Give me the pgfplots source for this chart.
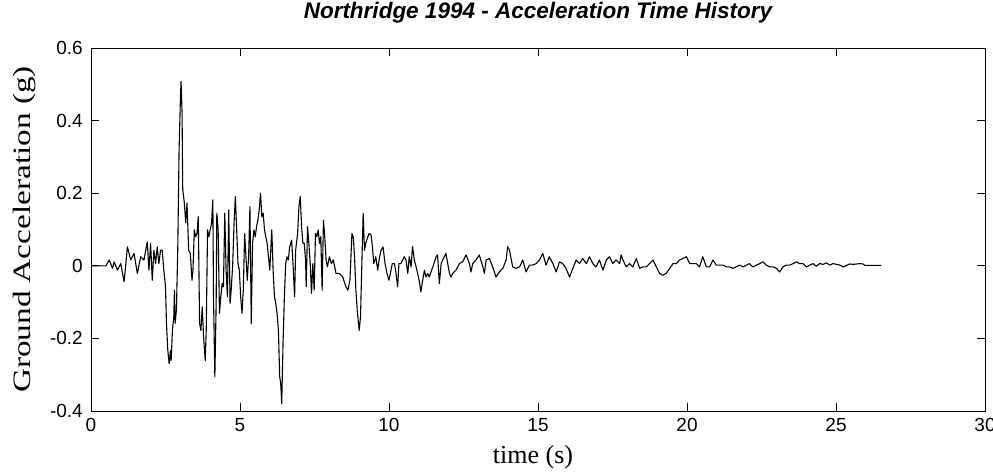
\documentclass[border=0pt]{standalone}
\usepackage{pgfplots}
\pgfplotsset{compat=1.18}
\usepackage{fontspec}
\setmainfont{Liberation Sans}
\newfontfamily\labelserif{Liberation Serif}
\usepackage{graphicx}

\begin{document}
\begin{tikzpicture}
\begin{axis}[
  scale only axis,
  width=894pt, height=363pt,
  xmin=0, xmax=30, ymin=-0.4, ymax=0.6,
  xtick={0,5,...,30},
  ytick={-0.4,-0.2,0,0.2,0.4,0.6},
  yticklabels={-0.4,-0.2,0,0.2,0.4,0.6},
  xticklabels={0,5,10,15,20,25,30},
  tick align=inside,
  major tick length=8pt,
  tick style={black, line width=0.8pt},
  axis line style={black, line width=0.9pt},
  /pgf/number format/assume math mode=true,
  ticklabel style={font=\fontsize{19}{19}\selectfont},
  yticklabel style={inner sep=0pt, xshift=-8pt},
  xticklabel style={inner sep=0pt, yshift=-7pt},
  title={\fontsize{22.5}{22.5}\selectfont\bfseries\itshape Northridge 1994 - Acceleration Time History},
  title style={at={(axis description cs:0.5,1)}, anchor=base, yshift=23pt, inner sep=0pt},
  xlabel={\labelserif\fontsize{26}{26}\selectfont time (s)},
  xlabel style={at={(axis description cs:0.5,0)}, anchor=base, yshift=-52pt, xshift=-5pt, inner sep=0pt},
  ylabel={\scalebox{1.33}[1]{\labelserif\fontsize{25}{25}\selectfont Ground Acceleration (g)}},
  ylabel style={at={(axis description cs:-0.0873,0.5)}, anchor=north, inner sep=0pt},
  clip=true,
]
\addplot[black, line width=1.1pt, sharp plot, mark=none, line join=round] table {
t a
0 0
0.5 0
0.611 0.016
0.722 -0.007
0.778 0.011
0.889 -0.012
1.0 0.006
1.111 -0.044
1.222 0.052
1.333 0.016
1.444 0.034
1.556 -0.021
1.667 0.025
1.778 0.016
1.889 0.066
1.944 -0.012
2.0 0.062
2.056 -0.040
2.111 0.043
2.167 0.006
2.222 0.052
2.278 0.006
2.333 0.043
2.389 0.043
2.444 -0.012
2.5 -0.058
2.533 -0.160
2.578 -0.233
2.622 -0.270
2.667 -0.233
2.689 -0.261
2.733 -0.178
2.778 -0.141
2.8 -0.067
2.822 -0.159
2.867 -0.122
2.911 0.043
2.956 0.320
3.0 0.459
3.022 0.508
3.056 0.421
3.078 0.210
3.133 0.173
3.178 0.118
3.222 0.173
3.278 0.043
3.333 0.034
3.389 -0.040
3.422 -0.012
3.467 0.099
3.511 0.080
3.556 0.089
3.6 0.135
3.644 -0.159
3.689 -0.178
3.733 -0.113
3.778 -0.196
3.833 -0.261
3.867 -0.178
3.911 0.099
3.956 0.080
4.0 0.099
4.044 0.117
4.089 0.182
4.111 -0.085
4.156 -0.306
4.2 -0.104
4.222 0.145
4.267 0.099
4.311 -0.131
4.356 -0.085
4.4 -0.049
4.444 -0.058
4.489 0.145
4.533 -0.012
4.578 -0.085
4.622 0.154
4.667 -0.104
4.711 -0.058
4.756 0.006
4.8 0.117
4.844 0.191
4.889 0.099
4.933 0.006
4.978 -0.012
5.022 -0.085
5.067 -0.131
5.111 -0.067
5.156 0.089
5.2 0.025
5.244 -0.040
5.289 0.025
5.333 0.163
5.378 -0.159
5.422 0.062
5.467 0.099
5.511 0.080
5.556 0.108
5.6 0.126
5.644 0.154
5.689 0.200
5.733 0.135
5.778 0.145
5.822 0.099
5.867 0.080
5.911 0.062
5.956 0.025
6.0 -0.012
6.044 0.062
6.067 0.099
6.111 -0.012
6.156 -0.085
6.2 -0.104
6.244 -0.131
6.289 -0.178
6.333 -0.306
6.367 -0.325
6.4 -0.380
6.444 -0.215
6.489 -0.085
6.533 0.006
6.578 0.025
6.622 0.016
6.667 0.052
6.733 0.071
6.778 0.006
6.833 -0.085
6.867 0.043
6.933 0.089
6.978 0.163
7.022 0.191
7.067 0.108
7.111 0.062
7.156 0.062
7.2 0.016
7.222 -0.058
7.267 0.108
7.311 0.062
7.356 0.006
7.4 -0.076
7.444 0.006
7.489 -0.067
7.533 0.089
7.578 0.080
7.622 0.099
7.667 0.062
7.711 0.080
7.756 -0.067
7.8 0.126
7.844 0.080
7.889 0.016
7.933 -0.003
8.0 0.025
8.067 0.006
8.133 0.016
8.222 -0.021
8.333 -0.021
8.444 -0.030
8.556 -0.058
8.622 -0.067
8.689 -0.040
8.756 0.089
8.8 0.080
8.844 0.025
8.889 -0.067
8.933 -0.122
9.0 -0.178
9.044 -0.141
9.089 0.006
9.133 0.145
9.178 0.043
9.222 0.062
9.289 0.080
9.333 0.089
9.4 0.085
9.444 0.052
9.489 0.006
9.556 0.025
9.622 -0.012
9.667 0.016
9.733 0.043
9.8 0.052
9.867 0.006
9.933 -0.021
10.0 -0.040
10.067 -0.012
10.111 0.006
10.178 0.006
10.222 -0.012
10.289 -0.058
10.333 0.006
10.40 0.006
10.46 0.016
10.51 0.025
10.57 0.016
10.63 -0.021
10.68 0.025
10.74 -0.003
10.79 0.053
10.85 0.016
10.91 -0.003
10.96 -0.021
11.02 -0.044
11.07 -0.072
11.13 -0.040
11.19 -0.012
11.24 -0.031
11.30 -0.021
11.35 -0.031
11.47 -0.003
11.58 0.025
11.63 0.030
11.69 -0.049
11.75 0.006
11.80 0.016
11.91 0.034
12.03 -0.021
12.08 -0.031
12.14 -0.021
12.25 -0.012
12.36 0.006
12.47 0.011
12.59 0.030
12.70 0.006
12.75 -0.017
12.81 0.006
12.92 0.016
13.03 0.030
13.15 -0.003
13.20 -0.021
13.26 0.016
13.37 0.020
13.48 -0.003
13.59 -0.031
13.70 -0.017
13.82 -0.007
13.93 0.016
13.98 0.053
14.04 0.044
14.15 -0.003
14.26 -0.007
14.38 -0.003
14.49 0.016
14.60 -0.017
14.71 0.002
14.82 0.002
14.94 0.006
15.05 0.016
15.16 0.034
15.27 0.002
15.38 0.025
15.50 0.006
15.61 -0.017
15.72 0.011
15.83 0.006
15.94 -0.007
16.06 -0.031
16.17 -0.007
16.28 0.016
16.39 0.006
16.50 0.020
16.62 0.006
16.73 0.025
16.84 0.006
16.95 -0.003
17.06 0.016
17.18 -0.012
17.29 0.016
17.40 0.025
17.51 0.006
17.62 0.016
17.74 0.006
17.79 0.030
17.85 0.016
17.96 -0.003
18.07 0.006
18.18 -0.003
18.30 0.020
18.41 -0.007
18.52 -0.003
18.63 -0.003
18.74 0.006
18.86 0.016
18.97 -0.003
19.08 -0.021
19.19 -0.026
19.30 -0.021
19.42 -0.007
19.53 0.006
19.64 0.006
19.75 0.016
19.86 0.020
19.98 0.025
20.09 0.006
20.20 0.006
20.31 0.006
20.42 -0.003
20.53 0.025
20.65 -0.003
20.76 -0.003
20.87 0.016
20.98 0.002
21.10 0.002
21.21 0.002
21.32 -0.003
21.43 -0.003
21.54 -0.007
21.65 -0.003
21.77 0.002
21.88 -0.003
21.99 0.002
22.10 0.006
22.21 -0.003
22.33 0.002
22.44 0.006
22.55 0.011
22.66 0.002
22.77 -0.003
22.89 -0.003
23.00 -0.007
23.11 -0.017
23.22 -0.003
23.33 0.002
23.45 0.002
23.56 0.006
23.67 0.011
23.78 0.006
23.89 0.006
24.01 -0.003
24.12 0.002
24.23 0.006
24.34 -0.001
24.45 0.006
24.57 0.004
24.68 0.008
24.79 0.002
24.90 0.006
25.01 0.004
25.13 0.002
25.24 -0.003
25.35 0.001
25.46 0.005
25.57 0.004
25.69 0.005
25.80 0.006
25.91 0.005
25.97 0.001
26.52 0.001
};
\coordinate (SW) at (rel axis cs:0,0);
\coordinate (NE) at (rel axis cs:1,1);
\end{axis}
\pgfresetboundingbox
\path[use as bounding box] ([shift={(-91pt,-62pt)}]SW) rectangle ([shift={(8pt,48pt)}]NE);
\end{tikzpicture}
\end{document}
